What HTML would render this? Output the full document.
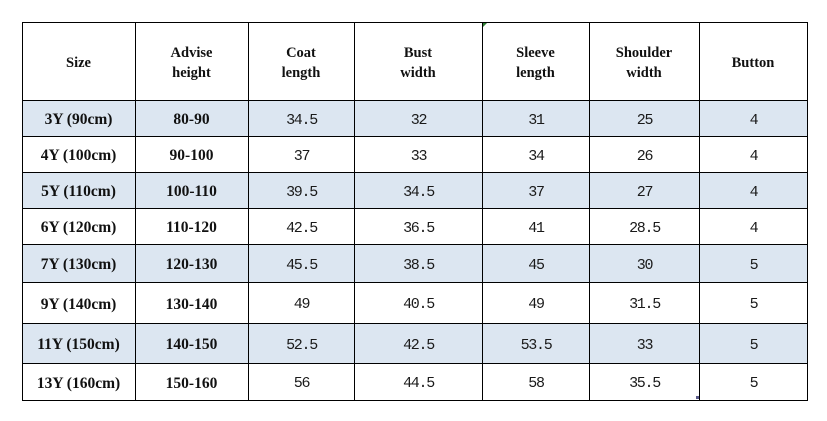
<!DOCTYPE html>
<html>
<head>
<meta charset="utf-8">
<style>
  html,body{margin:0;padding:0;background:#fff;}
  body{width:827px;height:421px;position:relative;overflow:hidden;}
  .c{position:absolute;display:flex;align-items:center;justify-content:center;text-align:center;box-sizing:border-box;}
  .h{font-family:"Liberation Serif","Noto Serif CJK SC",serif;font-weight:bold;font-size:14.5px;line-height:20px;color:#111;padding-top:4px;}
  .s{font-family:"Liberation Serif","Noto Serif CJK SC",serif;font-weight:bold;font-size:15.5px;color:#111;padding-top:4px;}
  .d{font-family:"Liberation Mono","Noto Sans CJK SC",monospace;font-size:15px;letter-spacing:-1.3px;color:#1a1a1a;padding-top:4px;padding-left:1px;}
  .b{background:#dce6f1;}
  .vl{position:absolute;width:1px;background:#000;top:22px;height:379px;}
  .hl{position:absolute;height:1px;background:#000;left:22px;width:786px;}
</style>
</head>
<body>
<div id="t"></div>
<script>
(function(){
  var xs=[22,135,248,354,482,589,699,807];
  var ys=[22,100,136,172,208,244,282,323,363,400];
  var head=["Size","Advise<br>height","Coat<br>length","Bust<br>width","Sleeve<br>length","Shoulder<br>width","Button"];
  var rows=[
    ["3Y (90cm)","80-90","34.5","32","31","25","4"],
    ["4Y (100cm)","90-100","37","33","34","26","4"],
    ["5Y (110cm)","100-110","39.5","34.5","37","27","4"],
    ["6Y (120cm)","110-120","42.5","36.5","41","28.5","4"],
    ["7Y (130cm)","120-130","45.5","38.5","45","30","5"],
    ["9Y (140cm)","130-140","49","40.5","49","31.5","5"],
    ["11Y (150cm)","140-150","52.5","42.5","53.5","33","5"],
    ["13Y (160cm)","150-160","56","44.5","58","35.5","5"]
  ];
  var html="";
  function cell(cls,x0,x1,y0,y1,txt){
    return '<div class="c '+cls+'" style="left:'+x0+'px;top:'+y0+'px;width:'+(x1-x0)+'px;height:'+(y1-y0)+'px">'+txt+'</div>';
  }
  for(var c=0;c<7;c++){
    html+=cell("h",xs[c],xs[c+1],ys[0],ys[1],head[c]);
  }
  for(var r=0;r<rows.length;r++){
    var blue=(r%2===0)?" b":"";
    for(var c=0;c<7;c++){
      var cls=(c<2?"s":"d")+blue;
      html+=cell(cls,xs[c],xs[c+1],ys[r+1],ys[r+2],rows[r][c]);
    }
  }
  for(var i=0;i<xs.length;i++){
    html+='<div class="vl" style="left:'+xs[i]+'px"></div>';
  }
  for(var j=0;j<ys.length;j++){
    html+='<div class="hl" style="top:'+ys[j]+'px"></div>';
  }
  html+='<div style="position:absolute;left:483px;top:23px;width:0;height:0;border-top:4px solid #2e7d32;border-right:4px solid transparent;"></div>';
  html+='<div style="position:absolute;left:696px;top:396px;width:3px;height:3px;background:#5a5a8a;"></div>';
  document.getElementById("t").innerHTML=html;
})();
</script>
</body>
</html>
